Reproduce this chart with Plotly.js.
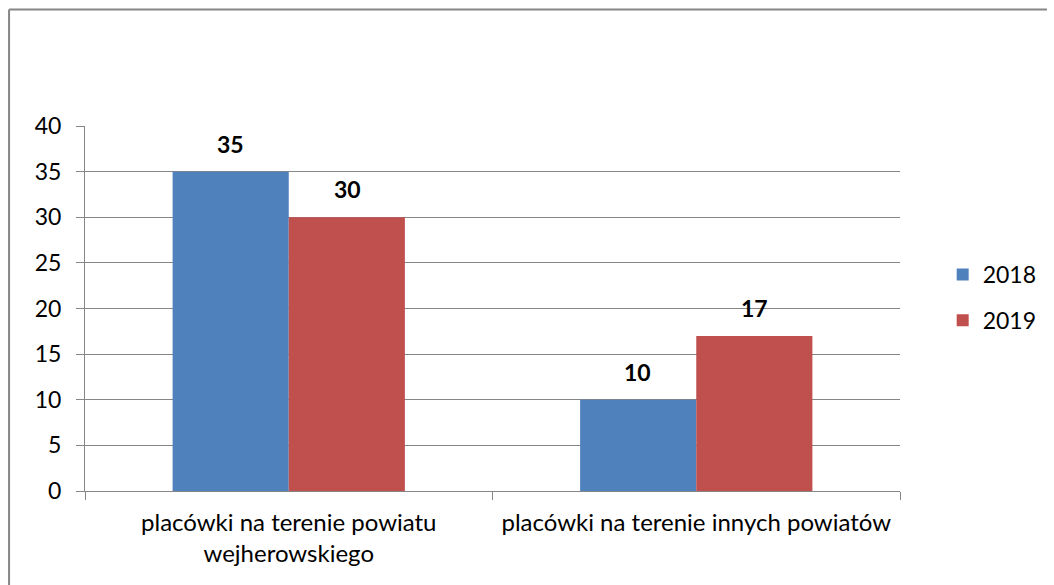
<!DOCTYPE html>
<html>
<head>
<meta charset="utf-8">
<script src="https://cdn.plot.ly/plotly-3.0.1.min.js"></script>
<style>
  html, body { margin: 0; padding: 0; background: #ffffff; }
  #chart { width: 1054px; height: 585px; }
</style>
</head>
<body>
<div id="chart"></div>
<script>
// ---- data ----
const categories = ["placówki na terenie powiatu wejherowskiego", "placówki na terenie innych powiatów"];
const categoryLabels = ["placówki na terenie powiatu<br>wejherowskiego", "placówki na terenie innych powiatów"];
const seriesNames = ["2018", "2019"];
const values2018 = [35, 10];
const values2019 = [30, 17];
const yTickValues = [0, 5, 10, 15, 20, 25, 30, 35, 40];

// ---- styling ----
const FONT = "Lato, 'Open Sans', sans-serif";
const FS = 23;
const colors = ["#4F81BD", "#C0504D"];
const gridColor = "#868686";

const W = 1054, H = 585;
const margin = { l: 85, r: 148, t: 126, b: 94 };
const plotW = W - margin.l - margin.r;
const plotH = H - margin.t - margin.b;
const bargap = 0.43;
const barW = plotW / categories.length * (1 - bargap) / 2;

const seriesValues = [values2018, values2019];

const traces = seriesNames.map((name, i) => ({
  type: "bar",
  name: name,
  x: categories,
  y: seriesValues[i],
  marker: { color: colors[i], line: { width: 0 } },
  legendgroup: "g" + i,
  hoverinfo: "x+y+name"
}));

// data labels as annotations above each bar
const annotations = [];
seriesValues.forEach((vals, i) => {
  vals.forEach((v, j) => {
    annotations.push({
      x: categories[j],
      y: v,
      xref: "x",
      yref: "y",
      text: "<b>" + v + "</b>",
      showarrow: false,
      xanchor: "center",
      yanchor: "bottom",
      xshift: (i - 0.5) * barW,
      yshift: 12,
      font: { family: FONT, size: FS, color: "#000000" }
    });
  });
});

// outer border (top and left only, as in the reference)
const px2x = p => (p - margin.l) / plotW;
const px2y = p => (H - margin.b - p) / plotH;
const shapes = [
  { type: "line", xref: "paper", yref: "paper", x0: px2x(8.5), x1: px2x(W), y0: px2y(9.5), y1: px2y(9.5),
    line: { color: "#868686", width: 2 } },
  { type: "line", xref: "paper", yref: "paper", x0: px2x(8.5), x1: px2x(8.5), y0: px2y(9.5), y1: px2y(H),
    line: { color: "#868686", width: 2 } }
];

const layout = {
  width: W,
  height: H,
  margin: margin,
  paper_bgcolor: "#ffffff",
  plot_bgcolor: "#ffffff",
  font: { family: FONT, size: FS, color: "#000000" },
  barmode: "group",
  bargap: bargap,
  bargroupgap: 0,
  showlegend: true,
  legend: {
    x: px2x(949),
    y: px2y(253),
    xanchor: "left",
    yanchor: "top",
    font: { family: FONT, size: FS, color: "#000000" },
    tracegroupgap: 13,
    itemwidth: 30,
    bgcolor: "rgba(0,0,0,0)"
  },
  xaxis: {
    type: "category",
    tickmode: "array",
    tickvals: categories,
    ticktext: categoryLabels,
    tickson: "boundaries",
    ticks: "outside",
    ticklen: 8,
    tickcolor: gridColor,
    tickwidth: 1,
    ticklabelstandoff: 10,
    showline: true,
    linecolor: gridColor,
    linewidth: 1,
    showgrid: false,
    zeroline: false,
    tickfont: { family: FONT, size: 24, color: "#000000" },
    fixedrange: true
  },
  yaxis: {
    range: [0, 40],
    tickmode: "array",
    tickvals: yTickValues,
    ticks: "outside",
    ticklen: 8,
    tickcolor: gridColor,
    tickwidth: 1,
    ticklabelstandoff: 10,
    showline: true,
    linecolor: gridColor,
    linewidth: 1,
    showgrid: true,
    gridcolor: gridColor,
    gridwidth: 1,
    zeroline: false,
    tickfont: { family: FONT, size: FS, color: "#000000" },
    fixedrange: true
  },
  annotations: annotations,
  shapes: shapes
};

Plotly.newPlot("chart", traces, layout, { displayModeBar: false, staticPlot: true });
</script>
</body>
</html>
